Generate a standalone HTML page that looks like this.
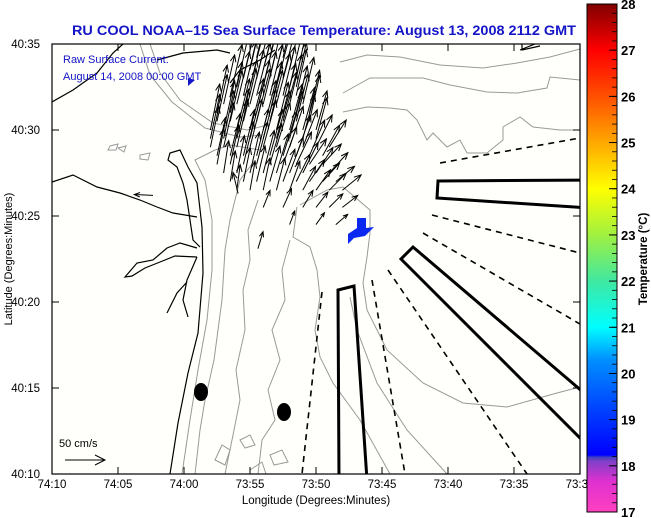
<!DOCTYPE html>
<html><head><meta charset="utf-8"><style>
html,body{margin:0;padding:0;background:#fff;}
svg{display:block;font-family:"Liberation Sans",sans-serif;}
</style></head><body>
<svg id="chart" width="651" height="518" viewBox="0 0 651 518">
<defs>
<clipPath id="plotclip"><rect x="52" y="44" width="528" height="430"/></clipPath>
<linearGradient id="cbgrad" x1="0" y1="1" x2="0" y2="0">
<stop offset="0" stop-color="#ff40c0"/>
<stop offset="0.06" stop-color="#e030d0"/>
<stop offset="0.1" stop-color="#8040c8"/>
<stop offset="0.108" stop-color="#4040c0"/>
<stop offset="0.112" stop-color="#0000ff"/>
<stop offset="0.2" stop-color="#0040ff"/>
<stop offset="0.3" stop-color="#0090ff"/>
<stop offset="0.364" stop-color="#00ffff"/>
<stop offset="0.455" stop-color="#40e8a0"/>
<stop offset="0.545" stop-color="#a0f040"/>
<stop offset="0.636" stop-color="#ffff00"/>
<stop offset="0.727" stop-color="#ffa800"/>
<stop offset="0.818" stop-color="#ff5000"/>
<stop offset="0.909" stop-color="#ff0000"/>
<stop offset="1" stop-color="#800000"/>
</linearGradient>
</defs>

<text x="72" y="35" textLength="504" lengthAdjust="spacingAndGlyphs" font-size="13.5" font-weight="bold" fill="#1414c8">RU COOL  NOAA–15  Sea Surface Temperature:  August 13, 2008 2112 GMT</text>

<g clip-path="url(#plotclip)">
<rect x="52" y="44" width="528" height="430" fill="#fffffb"/>
<g fill="none" stroke="#999" stroke-width="1">
<path d="M340,62 L367,55 L400,57 L440,65 L483,68 L517,63 L550,57 L580,49"/>
<path d="M343,93 L370,78 L423,78 L450,85 L487,92 L517,93 L547,88 L550,77 L580,80"/>
<path d="M343,112 L367,107 L390,108 L407,110 L417,120 L427,140 L433,133 L447,147 L460,140 L467,153 L487,153 L503,140 L503,127 L520,117 L533,127 L560,130 L580,130"/>
<path d="M300,205 L327,190 L343,187 L370,210 L370,233 L367,257 L363,283 L367,310 L387,350 L423,383 L463,403 L507,407 L557,393 L580,387"/>
<path d="M297,207 L293,237 L310,247 L317,270 L320,297 L315,330 L320,357 L333,383 L360,420 L390,474"/>
<path d="M350,297 L357,330 L377,383 L407,430 L447,474"/>
<path d="M150,44 L160,73 L180,100 L213,123 L247,130 L268,125"/>
<path d="M140,44 L150,75 L172,102 L205,128 L240,137 L262,135"/>
<path d="M182,474 L190,420 L198,370 L207,320 L212,270 L212,220 L205,180 L195,160 L215,150 L230,145 L260,150"/>
<path d="M195,474 L200,430 L205,400 L214,360 L222,300 L225,250 L230,220 L240,180 L255,160"/>
<path d="M225,474 L232,440 L240,400 L236,370 L245,330 L243,290 L250,260 L248,230 L258,200"/>
<path d="M258,474 L262,440 L275,420 L268,390 L280,360 L272,330 L285,300 L282,270 L290,240"/>
<path d="M215,460 L222,445 L230,450 L225,465Z M240,440 L250,435 L255,445 L245,448Z M270,455 L282,450 L288,462 L274,465Z M250,470 L262,462 L266,474"/>
<path d="M110,146 L118,144 L116,150 L108,150Z M118,148 L126,146 L124,152Z M140,155 L150,153 L148,160 L140,159Z"/>
</g>
<g fill="none" stroke="#000" stroke-width="1.2">
<path d="M170,474 L178,423 L188,373 L198,333 L203,273 L202,227 L197,183 L188,167 L180,150 L170,153 L168,160 L177,167 L183,183 L187,200 L193,240 L200,247"/>
<path d="M197,248 L180,243 L167,248 L153,260 L137,263 L125,277 L132,276 L145,268 L160,262 L175,256 L197,257"/>
<path d="M197,257 L187,280 L183,300 L188,317 M187,282 L177,293 L167,313"/>
<path d="M52,182 L73,175 L97,187 L120,193 L140,200 L157,207 L173,213 L197,217"/>
<path d="M52,102 L73,90 L97,73 L113,53 L123,44"/>
<path d="M157,60 L183,53 L217,50 L230,53 M230,83 L240,70 L260,60 L275,50"/>
<path d="M520,50 L535,44 M522,44 L522,50 L540,46"/>
</g>
<g stroke="#000" stroke-width="1.6" stroke-dasharray="6,5" fill="none">
<line x1="440" y1="163" x2="580" y2="138"/>
<line x1="432" y1="215" x2="580" y2="253"/>
<line x1="423" y1="233" x2="580" y2="324"/>
<line x1="388" y1="270" x2="527" y2="474"/>
<line x1="372" y1="280" x2="405" y2="474"/>
<line x1="322" y1="292" x2="302" y2="474"/>
</g>
<g stroke="#000" stroke-width="3" fill="none">
<polygon points="438,181 590,180 590,208 437,198"/>
<polygon points="413,247 401,259 590,448 590,398"/>
<polygon points="338,290 354,286 367,480 339,480"/>
</g>
<polygon fill="#0a28f0" points="357,218 366,218 366,228 374,227 365,236 354,238 348,244 348,234 357,228"/>
<ellipse cx="201" cy="392" rx="7" ry="9" fill="#000"/>
<ellipse cx="284" cy="412" rx="7" ry="9" fill="#000"/>
<g id="arrows" stroke="#000" stroke-width="1" fill="none"></g>
</g>

<text x="63" y="63" font-size="11" fill="#1414c8">Raw Surface Current:</text>
<text x="63" y="80" font-size="11" fill="#1414c8">August 14, 2008 00:00 GMT</text>
<polygon points="188,78 195,80 188,86" fill="#1414c8"/>
<text x="59" y="447" font-size="11" fill="#000">50 cm/s</text>
<g stroke="#000" stroke-width="1"><line x1="65" y1="460" x2="105" y2="460"/><polyline points="95,455 105,460 95,465" fill="none"/></g>

<rect x="52" y="44" width="528" height="430" fill="none" stroke="#000" stroke-width="1.2"/>
<g id="axes"></g>
<text x="316" y="504" text-anchor="middle" font-size="11.5">Longitude (Degrees:Minutes)</text>
<text transform="translate(12,259) rotate(-90)" text-anchor="middle" font-size="11">Latitude (Degrees:Minutes)</text>

<rect x="587" y="4" width="30" height="508" fill="url(#cbgrad)" stroke="#000" stroke-width="1"/>
<g id="cbticks"></g>
<text transform="translate(647,259) rotate(-90)" text-anchor="middle" font-size="11.5" font-weight="bold">Temperature (°C)</text>
</svg>
<script>
// Current vectors: latitude minutes past 40:00 N, longitude minutes past 73:00 W, u/v in cm/s
const vecLat = [33.5,33.5,33.5,33.5,
32.5,32.5,32.5,32.5,32.5,32.5,
31.5,31.5,31.5,31.5,31.5,31.5,31.5,
30.5,30.5,30.5,30.5,30.5,30.5,30.5,30.5,
29.5,29.5,29.5,29.5,29.5,29.5,29.5,29.5,29.5,
28.5,28.5,28.5,28.5,28.5,28.5,28.5,28.5,28.5,
27.5,27.5,27.5,27.5,27.5,27.5,27.5,27.5,27.5,
26.5,26.5,26.5,26.5,26.5,26.5,26.5,26.5,26.5,
25.5,25.5,25.5,25.5,25.5,25.5,
24.5,24.5,24.5,
26.2,23.1,26.3,
34.2,34.2,34.2,
33,33,33,33,33,
32,32,32,32,32,32,
31,31,31,31,31,31,31,31,
30,30,30,30,30,30,30,30,30,
29,29,29,29,29,29,29,29,29,29,
28,28,28,28,28,28,28,28,28,
27,27,27,27,27,27,27,27,27];
const vecLon = [55,54,53,52,
56,55,54,53,52,51.5,
57,56,55,54,53,52,51,
57.5,56.5,55.5,54.5,53.5,52.5,51.5,50.5,
58,57,56,55,54,53,52,51,50,
57.5,56.5,55.5,54.5,53.5,52.5,51.5,50.5,49.5,
57,56,55,54,53,52,51,50,49,
56,55,54,53,52,51,50,49,48,
54,52.5,51,50,49,48,
52,50,48.5,
62.35,54.4,55.9,
54.5,53.5,52.5,
55.5,54.5,53.5,52.5,51.5,
56.5,55.5,54.5,53.5,52.5,51.5,
57.5,56.5,55.5,54.5,53.5,52.5,51.5,50.5,
58,57,56,55,54,53,52,51,50,
58,57,56,55,54,53,52,51,50,49,
57.5,56.5,55.5,54.5,53.5,52.5,51.5,50.5,49.5,
56.5,55.5,54.5,53.5,52.5,51.5,50.5,49.5,48.5];
const vecU = [14,16,15,13,
14,16,15,16,14,12,
13,15,16,15,16,14,13,
12,14,15,16,15,16,14,12,
11,12,14,15,15,16,15,14,13,
10,12,13,14,15,16,17,18,20,
6,9,11,13,14,16,18,20,22,
4,6,8,10,12,15,17,20,22,
8,10,12,14,16,18,
6,10,14,
-22,6,-6,
14,15,13,
15,16,14,15,12,
14,15,16,15,14,12,
12,14,16,15,14,15,13,12,
11,13,15,16,15,14,15,14,13,
10,12,13,14,15,16,16,17,19,20,
8,10,12,13,14,16,18,20,22,
6,8,10,12,14,16,18,20,22];
const vecV = [62,64,60,58,
62,65,63,62,60,52,
58,62,64,62,60,58,55,
55,60,62,62,60,58,56,54,
52,56,58,60,58,56,55,52,48,
45,50,54,55,54,52,48,42,36,
38,44,48,50,46,42,36,30,24,
30,34,38,38,34,28,24,20,18,
20,22,20,18,16,14,
16,14,12,
1,20,25,
60,62,58,
63,64,60,60,55,
60,64,62,60,58,54,
56,60,62,62,60,58,55,50,
54,58,60,60,58,56,54,50,46,
48,52,56,56,55,52,48,44,38,32,
42,46,50,50,48,44,38,30,24,
36,40,42,42,38,32,26,22,18];
// Axis tick labels
const xTickLabels = ["74:10","74:05","74:00","73:55","73:50","73:45","73:40","73:35","73:30"];
const yTickLabels = ["40:10","40:15","40:20","40:25","40:30","40:35"];
const cbLabels = [17,18,19,20,21,22,23,24,25,26,27,28];

const NS="http://www.w3.org/2000/svg";
const L=52,R=580,T=44,B=474;
function xOfLon(lon){return L+(70-lon)*(R-L)/40;}
function yOfLat(lat){return B-(lat-10)*(B-T)/25;}
const pxPerCm=0.85;
function mk(tag,attrs,parent){const e=document.createElementNS(NS,tag);for(const k in attrs)e.setAttribute(k,attrs[k]);parent.appendChild(e);return e;}

const ag=document.getElementById('arrows');
for(let i=0;i<vecLat.length;i++){
  const x0=xOfLon(vecLon[i]),y0=yOfLat(vecLat[i]);
  const dx=vecU[i]*pxPerCm,dy=-vecV[i]*pxPerCm;
  const x1=x0+dx,y1=y0+dy;
  const len=Math.hypot(dx,dy),ux=dx/len,uy=dy/len,h=Math.min(7,len*0.3);
  const g=mk('g',{},ag);
  
  
  mk('line',{x1:x0,y1:y0,x2:x1,y2:y1},g);
  const ax=x1-ux*h,ay=y1-uy*h;
  mk('polyline',{points:`${ax-uy*h*0.4},${ay+ux*h*0.4} ${x1},${y1} ${ax+uy*h*0.4},${ay-ux*h*0.4}`},g);
}

const axes=document.getElementById('axes');
xTickLabels.forEach((lab,i)=>{
  const x=L+i*(R-L)/(xTickLabels.length-1);
  mk('line',{x1:x,y1:B,x2:x,y2:B-7,stroke:'#000'},axes);
  mk('line',{x1:x,y1:T,x2:x,y2:T+7,stroke:'#000'},axes);
  const t=mk('text',{x:x,y:B+14,'text-anchor':'middle','font-size':'11.5'},axes);
  t.textContent=lab;
  
  
});
yTickLabels.forEach((lab,i)=>{
  const y=B-i*(B-T)/(yTickLabels.length-1);
  mk('line',{x1:L,y1:y,x2:L+7,y2:y,stroke:'#000'},axes);
  mk('line',{x1:R,y1:y,x2:R-7,y2:y,stroke:'#000'},axes);
  const t=mk('text',{x:L-12,y:y+4,'text-anchor':'end','font-size':'11.5'},axes);
  t.textContent=lab;
  
  
});

const cb=document.getElementById('cbticks');
const cbT=4,cbB=512,cmin=17,cmax=28;
function yOfTemp(v){return cbB-(v-cmin)*(cbB-cbT)/(cmax-cmin);}
for(let v=cmin;v<=cmax+1e-6;v+=0.2){
  const y=yOfTemp(v);
  mk('line',{x1:612,y1:y,x2:617,y2:y,stroke:'#000','stroke-width':'0.8'},cb);
}
cbLabels.forEach(v=>{
  const y=yOfTemp(v);
  mk('line',{x1:609,y1:y,x2:617,y2:y,stroke:'#000'},cb);
  const t=mk('text',{x:621,y:y+5,'font-size':'13','font-weight':'bold'},cb);
  t.textContent=String(v);
  
  
});
</script>
</body></html>
